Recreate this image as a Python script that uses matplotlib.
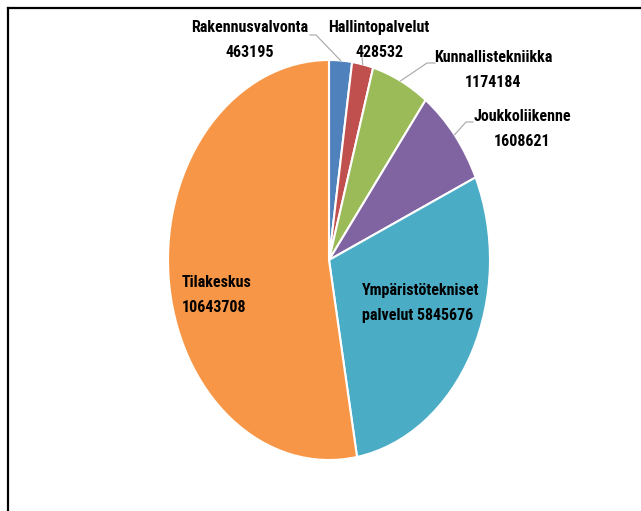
import matplotlib.pyplot as plt
import numpy as np
from matplotlib import font_manager

# data
names = ['Rakennusvalvonta', 'Hallintopalvelut', 'Kunnallistekniikka',
         'Joukkoliikenne', 'Ympäristötekniset\npalvelut', 'Tilakeskus']
values = [463195, 428532, 1174184, 1608621, 5845676, 10643708]
colors = ['#4F81BD', '#C0504D', '#9BBB59', '#8064A2', '#4BACC6', '#F79646']

# pick a narrow font if one is installed
installed = {f.name for f in font_manager.fontManager.ttflist}
narrow = [f for f in ['Liberation Sans Narrow', 'Roboto Condensed', 'Open Sans Condensed',
                      'DejaVu Sans Condensed'] if f in installed]
plt.rcParams['font.family'] = narrow + ['DejaVu Sans']

W, H = 641, 511
cx, cy = 329, 260          # pie centre in pixels (from top)
rx, ry = 161, 200          # the pie is stretched vertically

fig = plt.figure(figsize=(W / 100, H / 100), dpi=100)
ax = fig.add_axes([0, 0, 1, 1])
wedges, _ = ax.pie(values, colors=colors, startangle=90, counterclock=False,
                   radius=1, wedgeprops=dict(edgecolor='white', linewidth=1.5))
ax.set_aspect('auto')
ax.set_xlim(-cx / rx, (W - cx) / rx)
ax.set_ylim(-(H - cy) / ry, cy / ry)
ax.axis('off')


def px(x, y):
    # pixel position -> data coordinates
    return (x - cx) / rx, (cy - y) / ry


def edge(w):
    a = np.deg2rad((w.theta1 + w.theta2) / 2)
    return np.cos(a), np.sin(a)


fs = 11.5 if narrow else 10
txt = dict(fontsize=fs, fontweight='bold', color='black', fontstretch='condensed')
ls = 1.8

# outside labels: (text centre, stub start, elbow)
outside = [
    ((250, 40), (310, 35), (316, 35)),
    ((379, 40), (362, 58), (362, 58)),
    ((493, 70), (435, 63), (427, 63)),
    ((522, 129), (473, 122), (466, 122)),
]
for i, (tp, stub, elbow) in enumerate(outside):
    label = names[i] + '\n' + str(values[i])
    ax.text(*px(*tp), label, ha='center', va='center', linespacing=ls, **txt)
    ex, ey = edge(wedges[i])
    p0, p1 = px(*stub), px(*elbow)
    ax.plot([p0[0], p1[0], ex], [p0[1], p1[1], ey], color='#A6A6A6', lw=0.8)

ax.text(*px(362, 303), names[4] + ' ' + str(values[4]), ha='left', va='center',
        linespacing=ls, **txt)
ax.text(*px(182, 295), names[5] + '\n' + str(values[5]), ha='left', va='center',
        linespacing=ls, **txt)

# chart frame, cut off at right and bottom
fig.add_artist(plt.Line2D([7.5 / W, 7.5 / W], [0, 1 - 8.5 / H],
                          transform=fig.transFigure, color='black', lw=1.6))
fig.add_artist(plt.Line2D([7.5 / W, 1], [1 - 8.5 / H, 1 - 8.5 / H],
                          transform=fig.transFigure, color='black', lw=1.6))

fig.savefig('out.png', dpi=100)
